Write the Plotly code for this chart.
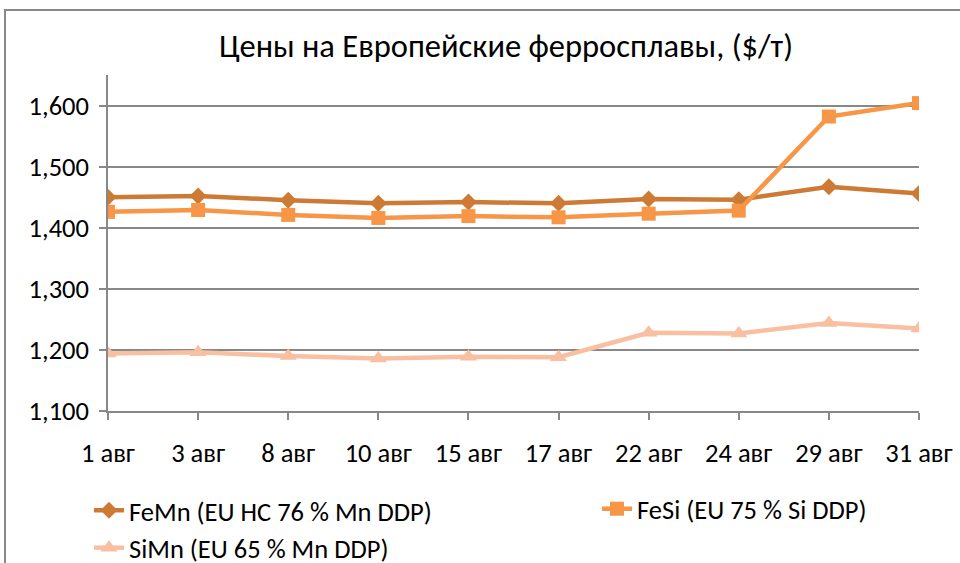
import plotly.graph_objects as go

categories = ["1 авг", "3 авг", "8 авг", "10 авг", "15 авг", "17 авг", "22 авг", "24 авг", "29 авг", "31 авг"]
femn = [1450, 1452, 1445, 1440, 1442, 1440, 1447, 1446, 1467, 1456]
fesi = [1426, 1429, 1421, 1416, 1419, 1417, 1423, 1428, 1582, 1604]
simn = [1194, 1196, 1190, 1186, 1189, 1188, 1228, 1227, 1244, 1235]
y_ticks = [1100, 1200, 1300, 1400, 1500, 1600]

names = ["FeMn (EU HC 76 % Mn DDP)", "FeSi (EU 75 % Si DDP)", "SiMn (EU 65 % Mn DDP)"]
colors = ["#CD7A35", "#F79646", "#F8BFA0"]
symbols = ["diamond", "square", "triangle-up"]
sizes = [13, 14, 15]
legends = ["legend", "legend2", "legend"]
groups = ["a", "b", "c"]

W, H = 960, 563
L, R, T, B = 108, 41, 75, 152
FONT = "Carlito, Calibri, 'Open Sans', sans-serif"
FS = 26.5

fig = go.Figure()
for vals, nm, c, s, sz, lg, gr in zip([femn, fesi, simn], names, colors, symbols, sizes, legends, groups):
    fig.add_trace(go.Scatter(
        x=categories, y=vals, name=nm, mode="lines+markers",
        line=dict(color=c, width=4.5),
        marker=dict(symbol=s, size=sz, color=c),
        legend=lg, legendgroup=gr,
    ))

pw = W - L - R
ph = H - T - B
# outer chart frame (extends past right and bottom edges)
fig.add_shape(type="rect", xref="paper", yref="paper",
              x0=(5 - L) / pw, x1=(975 - L) / pw,
              y0=(H - B - 600) / ph, y1=(H - B - 10) / ph,
              line=dict(color="#888888", width=2), layer="below")

leg_common = dict(orientation="v", yanchor="middle", xanchor="left",
                  font=dict(family=FONT, size=FS, color="#000000"),
                  bgcolor="rgba(0,0,0,0)", tracegroupgap=0, itemwidth=30)

fig.update_layout(
    width=W, height=H,
    margin=dict(l=L, r=R, t=T, b=B, autoexpand=False),
    paper_bgcolor="white", plot_bgcolor="white",
    font=dict(family=FONT, size=FS, color="#000000"),
    title=dict(text="Цены на Европейские ферросплавы, ($/т)",
               x=506 / W, xref="container", xanchor="center",
               y=1 - 46 / H, yref="container", yanchor="middle",
               font=dict(family=FONT, size=32.5, color="#000000")),
    showlegend=True,
    legend=dict(x=(89 - L) / pw, y=(H - B - 529) / ph, **leg_common),
    legend2=dict(x=(597 - L) / pw, y=(H - B - 509) / ph, **leg_common),
    xaxis=dict(type="category", range=[0, len(categories) - 1],
               showline=True, linecolor="#888888", linewidth=1.5,
               ticks="outside", ticklen=7, tickcolor="#888888", tickwidth=1.5,
               showgrid=False, ticklabelstandoff=10,
               tickfont=dict(family=FONT, size=FS)),
    yaxis=dict(range=[1100, 1650], tickvals=y_ticks,
               ticktext=[f"{v:,}" for v in y_ticks],
               showline=True, linecolor="#888888", linewidth=1.5,
               ticks="outside", ticklen=7, tickcolor="#888888", tickwidth=1.5,
               showgrid=True, gridcolor="#888888", gridwidth=1.5,
               zeroline=False, ticklabelstandoff=5,
               tickfont=dict(family=FONT, size=FS)),
)

fig.write_html("out.html", config={"displayModeBar": False},
               post_script="document.body.style.margin='0';document.body.style.overflow='hidden';")
